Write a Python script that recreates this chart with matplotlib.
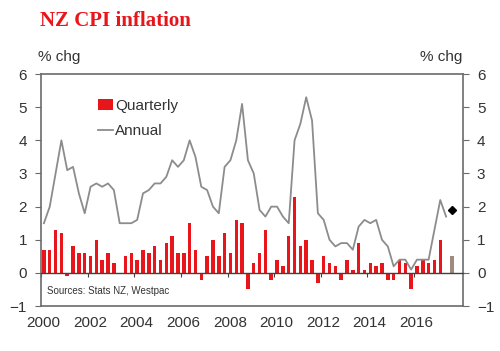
import numpy as np
import matplotlib.pyplot as plt

plt.rcParams['font.family'] = ['Liberation Sans', 'DejaVu Sans']

# quarterly CPI % change, 2000Q1 - 2017Q2
quarterly = [0.7, 0.7, 1.3, 1.2, -0.1, 0.8, 0.6, 0.6, 0.5, 1.0, 0.4, 0.6, 0.3,
             0.0, 0.5, 0.6, 0.4, 0.7, 0.6, 0.8, 0.4, 0.9, 1.1, 0.6, 0.6, 1.5,
             0.7, -0.2, 0.5, 1.0, 0.5, 1.2, 0.6, 1.6, 1.5, -0.5, 0.3, 0.6, 1.3,
             -0.2, 0.4, 0.2, 1.1, 2.3, 0.8, 1.0, 0.4, -0.3,
             0.5, 0.3, 0.2, -0.2, 0.4, 0.1, 0.9, 0.1, 0.3, 0.2, 0.3, -0.2,
             -0.2, 0.4, 0.3, -0.5, 0.2, 0.4, 0.3, 0.4, 1.0, 0.0]

# annual CPI % change, 2000Q1 - 2017Q2
annual = [1.5, 2.0, 3.0, 4.0, 3.1, 3.2, 2.4, 1.8, 2.6, 2.7, 2.6, 2.7, 2.5,
          1.5, 1.5, 1.5, 1.6, 2.4, 2.5, 2.7, 2.7, 2.9, 3.4, 3.2, 3.4, 4.0,
          3.5, 2.6, 2.5, 2.0, 1.8, 3.2, 3.4, 4.0, 5.1, 3.4, 3.0, 1.9, 1.7,
          2.0, 2.0, 1.7, 1.5, 4.0, 4.5, 5.3, 4.6, 1.8,
          1.6, 1.0, 0.8, 0.9, 0.9, 0.7, 1.4, 1.6, 1.5, 1.6, 1.0, 0.8,
          0.2, 0.4, 0.4, 0.1, 0.4, 0.4, 0.4, 1.3, 2.2, 1.7]

# 2017Q3 forecast
forecast_q = 0.5
forecast_annual = 1.9

year_ticks = list(range(2000, 2017, 2))
y_ticks = list(range(-1, 7))

start_year = 2000
n = len(quarterly)
x = start_year + 0.125 + 0.25 * np.arange(n)
x_fc = start_year + 0.125 + 0.25 * n

red = '#e8161b'
grey_line = '#8c8c8c'
frame = '#6b6b6b'

fig = plt.figure(figsize=(5, 3.51), dpi=100)
ax = fig.add_axes([0.082, 0.128, 0.844, 0.661])

bars = ax.bar(x, quarterly, width=0.15, color=red, zorder=2)
ax.bar([x_fc], [forecast_q], width=0.15, color='#a08a7c', zorder=2)
line, = ax.plot(x, annual, color=grey_line, lw=1.3, zorder=3)
ax.plot([x_fc], [forecast_annual], marker='D', color='black', ms=4.5, ls='none', zorder=4)

ax.set_xlim(2000, 2018.1)
ax.set_ylim(-1, 6)
ax.set_yticks(y_ticks)

# zero line acts as the x axis with ticks
ax.spines['bottom'].set_position(('data', 0))
ax.spines['bottom'].set_color('#404040')
ax.spines['bottom'].set_linewidth(1.0)
ax.set_xticks(year_ticks)
ax.tick_params(axis='x', direction='out', length=3, color='#404040', labelbottom=False)

# year labels sit under the bottom frame, centred on the first quarter
sec = ax.secondary_xaxis(0.0)
sec.set_xticks([y + 0.1 for y in year_ticks])
sec.set_xticklabels([str(y) for y in year_ticks])
sec.tick_params(length=0, pad=7, labelsize=11, labelcolor='#333333')
sec.spines['bottom'].set_color(frame)
sec.spines['bottom'].set_linewidth(1.2)

for s in ['top', 'left', 'right']:
    ax.spines[s].set_color(frame)
    ax.spines[s].set_linewidth(1.2)

ax.tick_params(axis='y', direction='out', length=4, color=frame, labelsize=11,
               labelcolor='#333333', left=True, right=True,
               labelleft=True, labelright=True, pad=6)

leg = ax.legend([bars, line], ['Quarterly', 'Annual'], loc='upper left',
                bbox_to_anchor=(0.12, 0.92), frameon=False,
                fontsize=11, handlelength=1.0, handletextpad=0.15,
                labelspacing=0.75, borderaxespad=0)
for t in leg.get_texts():
    t.set_color('#333333')

ax.text(0.014, 0.065, 'Sources: Stats NZ, Westpac', transform=ax.transAxes,
        fontsize=7, color='#333333', va='center')

fig.text(0.076, 0.838, '% chg', fontsize=11, color='#333333', va='center')
fig.text(0.924, 0.838, '% chg', fontsize=11, color='#333333', va='center', ha='right')
fig.text(0.08, 0.94, 'NZ CPI inflation', fontsize=15, fontweight='bold',
         family=['Liberation Serif', 'DejaVu Serif'], color=red, va='center')

fig.savefig('out.png', dpi=100)
